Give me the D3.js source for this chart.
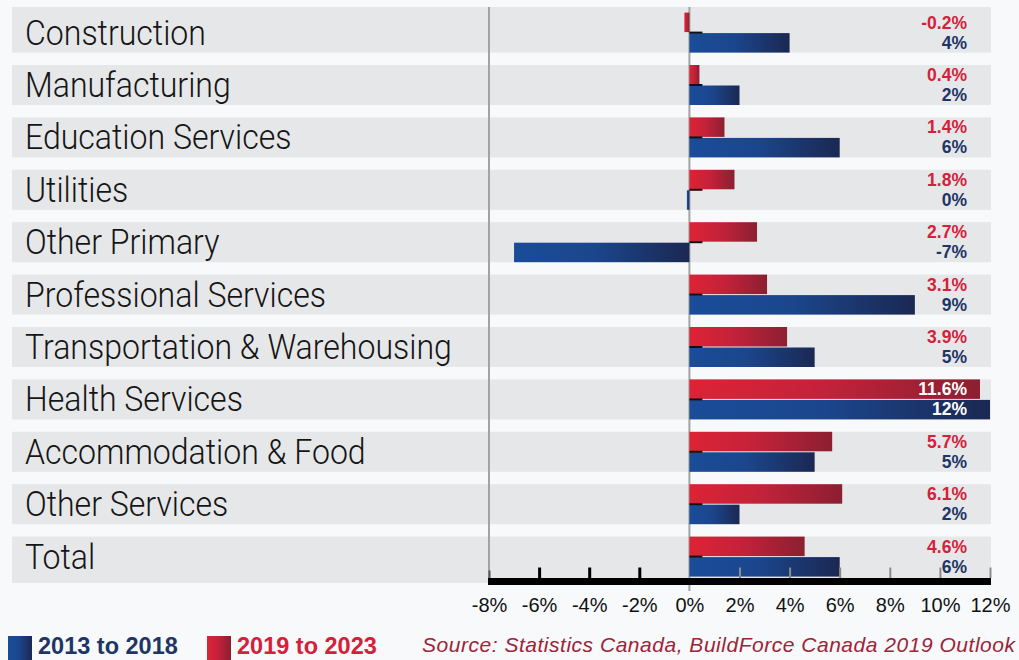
<!DOCTYPE html>
<html>
<head>
<meta charset="utf-8">
<script src="https://cdn.jsdelivr.net/npm/d3@7/dist/d3.min.js"></script>
<style>
  html, body { margin: 0; padding: 0; background: #f7f9fb; }
  svg { display: block; }
</style>
</head>
<body>
<svg id="chart" width="1019" height="660"></svg>
<script>
// Employment growth by sector, two periods (percent)
const categories = [
  "Construction", "Manufacturing", "Education Services", "Utilities",
  "Other Primary", "Professional Services", "Transportation & Warehousing",
  "Health Services", "Accommodation & Food", "Other Services", "Total"
];
const growth2013to2018 = [4, 2, 6, -0.1, -7, 9, 5, 12, 5, 2, 6];
const growth2019to2023 = [-0.2, 0.4, 1.4, 1.8, 2.7, 3.1, 3.9, 11.6, 5.7, 6.1, 4.6];
const tickValues = [-8, -6, -4, -2, 0, 2, 4, 6, 8, 10, 12];
const seriesNames = ["2013 to 2018", "2019 to 2023"];
const sourceNote = "Source: Statistics Canada, BuildForce Canada 2019 Outlook";

const BLUE_TEXT = "#1f3566", RED_TEXT = "#d4213a", SOURCE_RED = "#9e2437";

const svg = d3.select("#chart");

const locale = d3.formatLocale({ decimal: ".", thousands: ",", grouping: [3], currency: ["$", ""], minus: "-" });
const fmtInt = locale.format(".0f");
const fmt1 = locale.format(".1f");

// Gradients for bars and legend swatches
const defs = svg.append("defs");
function gradient(id, stops) {
  const g = defs.append("linearGradient").attr("id", id)
    .attr("x1", 0).attr("y1", 0).attr("x2", 1).attr("y2", 0);
  stops.forEach(([o, c]) => g.append("stop").attr("offset", o).attr("stop-color", c));
}
gradient("gBlue", [[0, "#1a4c98"], [0.45, "#1b468d"], [1, "#1b2852"]]);
gradient("gRed", [[0, "#dd2335"], [0.45, "#c4223a"], [1, "#8c1f31"]]);

// Scales
const pitch = 52.4, bandH = 40, firstTop = 12.6;
const x = d3.scaleLinear().domain([-8, 12]).range([489, 990]);
const y = d3.scaleBand().domain(categories)
  .range([firstTop, firstTop + pitch * (categories.length - 1) + bandH])
  .paddingInner((pitch - bandH) / pitch).paddingOuter(0);
const axisY = 581.5;

// Row bands
svg.append("g").selectAll("rect").data(categories).join("rect")
  .attr("x", 12)
  .attr("y", (d, i) => i === 0 ? 7 : y(d))
  .attr("width", 991 - 12)
  .attr("height", (d, i) => {
    const top = i === 0 ? 7 : y(d);
    const bottom = i === categories.length - 1 ? 583 : y(d) + y.bandwidth();
    return bottom - top;
  })
  .attr("fill", "#e6e7e9");

// Vertical reference lines at -8% and 0%
svg.append("line").attr("x1", x(-8)).attr("x2", x(-8)).attr("y1", 7).attr("y2", 578)
  .attr("stroke", "#a3a3a3").attr("stroke-width", 2);
svg.append("line").attr("x1", x(0)).attr("x2", x(0)).attr("y1", 7).attr("y2", 591)
  .attr("stroke", "#a3a3a3").attr("stroke-width", 2);

// Bars
const rows = categories.map((c, i) => ({ c, blue: growth2013to2018[i], red: growth2019to2023[i] }));
const barH = 19.5;

svg.append("g").selectAll("rect").data(rows).join("rect")
  .attr("x", d => x(Math.min(0, d.red)))
  .attr("y", d => y(d.c))
  .attr("width", d => Math.abs(x(d.red) - x(0)))
  .attr("height", barH)
  .attr("fill", "url(#gRed)");

svg.append("g").selectAll("rect").data(rows).join("rect")
  .attr("x", d => x(Math.min(0, d.blue)))
  .attr("y", d => y(d.c) + y.bandwidth() - barH)
  .attr("width", d => Math.abs(x(d.blue) - x(0)))
  .attr("height", barH)
  .attr("fill", "url(#gBlue)");

// Small black marker at the zero point between the paired bars
svg.append("g").selectAll("rect").data(rows).join("rect")
  .attr("x", x(0))
  .attr("y", d => y(d.c) + 19)
  .attr("width", 13)
  .attr("height", 2)
  .attr("fill", "#111");

// Category labels (condensed by a horizontal scale)
const labels = svg.append("g").selectAll("text").data(categories).join("text")
  .text(d => d)
  .attr("font-family", "Roboto, 'Liberation Sans', sans-serif")
  .attr("font-weight", 300)
  .attr("font-size", 35)
  .attr("fill", "#151515");
let widest = 0;
labels.each(function () { widest = Math.max(widest, this.getComputedTextLength()); });
const squeeze = widest > 0 ? 427 / widest : 0.78;
labels.attr("transform", d => `translate(25,${y(d) + 32}) scale(${squeeze},1)`);

// Value labels
const labelX = 967;
const valueFont = "'Liberation Sans', Arial, sans-serif";
svg.append("g").selectAll("text").data(rows).join("text")
  .attr("x", labelX).attr("y", d => y(d.c) + 16)
  .attr("text-anchor", "end")
  .attr("font-family", valueFont).attr("font-weight", "bold").attr("font-size", 17.5)
  .attr("fill", d => x(d.red) > labelX - 10 ? "#ffffff" : RED_TEXT)
  .text(d => fmt1(d.red) + "%");
svg.append("g").selectAll("text").data(rows).join("text")
  .attr("x", labelX).attr("y", d => y(d.c) + 36)
  .attr("text-anchor", "end")
  .attr("font-family", valueFont).attr("font-weight", "bold").attr("font-size", 17.5)
  .attr("fill", d => x(d.blue) > labelX - 10 ? "#ffffff" : BLUE_TEXT)
  .text(d => fmtInt(d.blue) + "%");

// Bottom axis
const axis = d3.axisBottom(x).tickValues(tickValues).tickFormat(d => fmtInt(d) + "%").tickSizeOuter(0);
const axisG = svg.append("g").attr("transform", `translate(0,${axisY})`).call(axis);
axisG.select(".domain").attr("stroke", "#000").attr("stroke-width", 7)
  .attr("d", `M${x(-8) - 1},0H${x(12) + 1}`);
axisG.selectAll(".tick line")
  .attr("y1", -3.5).attr("y2", d => d === -8 ? -11 : -14)
  .attr("stroke", d => d < -7 ? "#555" : d < 0 ? "#000" : "#8c8c8c")
  .attr("stroke-width", d => d < 0 && d > -8 ? 3 : 2)
  .attr("display", d => d === 0 ? "none" : null);
axisG.selectAll(".tick text")
  .attr("y", 30.5).attr("dy", 0)
  .attr("font-family", "'Liberation Sans', Arial, sans-serif")
  .attr("font-size", 20).attr("fill", "#111");

// Legend
const legend = svg.append("g");
const legendItems = [
  { name: seriesNames[0], fill: "url(#gBlue)", color: BLUE_TEXT, x: 8 },
  { name: seriesNames[1], fill: "url(#gRed)", color: RED_TEXT, x: 207 }
];
legend.selectAll("rect").data(legendItems).join("rect")
  .attr("x", d => d.x).attr("y", 636).attr("width", 24).attr("height", 26)
  .attr("fill", d => d.fill);
legend.selectAll("text").data(legendItems).join("text")
  .attr("x", d => d.x + 30).attr("y", 654)
  .attr("font-family", "'Liberation Sans', Arial, sans-serif")
  .attr("font-weight", "bold").attr("font-size", 23.5)
  .attr("fill", d => d.color)
  .text(d => d.name);

svg.append("text")
  .attr("x", 422).attr("y", 652)
  .attr("font-family", "'Liberation Sans', Arial, sans-serif")
  .attr("font-style", "italic").attr("font-size", 21)
  .attr("textLength", 593).attr("lengthAdjust", "spacing")
  .attr("fill", SOURCE_RED)
  .text(sourceNote);
</script>
</body>
</html>
